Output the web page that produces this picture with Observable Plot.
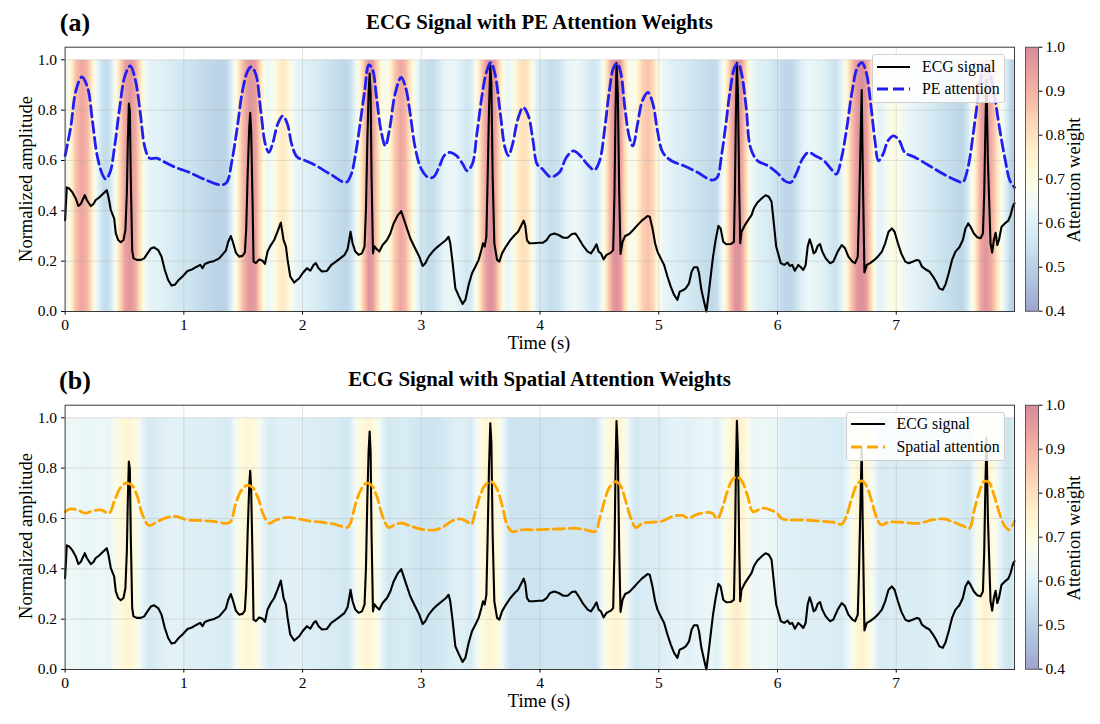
<!DOCTYPE html>
<html><head><meta charset="utf-8">
<script src="https://cdn.jsdelivr.net/npm/d3@7"></script>
<script src="https://cdn.jsdelivr.net/npm/@observablehq/plot@0.6"></script>
<style>
body{margin:0;background:#fff;}
#root{position:relative;width:1100px;height:724px;overflow:hidden;font-family:"Liberation Serif","Times New Roman",serif;color:#000;}
.abs{position:absolute;}
.c{transform:translate(-50%,-50%);white-space:nowrap;line-height:1;}
.tag{font-weight:bold;font-size:26px;}
.title{font-weight:bold;font-size:20.8px;}
.xl{font-size:18.5px;}
.yl{font-size:18.5px;transform:translate(-50%,-50%) rotate(-90deg);white-space:nowrap;line-height:1;}
.legend{background:rgba(255,255,255,0.85);border:1px solid #d0d0d0;border-radius:3px;box-sizing:border-box;}
.lt{font-size:15.8px;transform:translateY(-50%);white-space:nowrap;line-height:1;}
svg{overflow:visible;}
</style></head>
<body><div id="root"></div>
<script>
// ---------------- data ----------------
const xTicks = [0,1,2,3,4,5,6,7];
const yTicks = [0,0.2,0.4,0.6,0.8,1.0];
const cbTicks = [0.4,0.5,0.6,0.7,0.8,0.9,1.0];
const timeDomain = [0, 7.996];

// ECG signal [time s, normalized amplitude]
const ecgSignal = [
[0,0.363],[0.014,0.493],[0.034,0.489],[0.062,0.473],[0.09,0.449],[0.112,0.419],[0.132,0.427],[0.166,0.462],[0.183,0.443],[0.216,0.419],
[0.239,0.427],[0.258,0.443],[0.287,0.453],[0.315,0.466],[0.351,0.482],[0.365,0.456],[0.385,0.403],[0.413,0.370],[0.427,0.310],[0.447,0.284],
[0.469,0.275],[0.492,0.284],[0.508,0.324],[0.52,0.469],[0.528,0.667],[0.537,0.826],[0.545,0.799],[0.553,0.535],[0.565,0.244],[0.576,0.211],
[0.604,0.205],[0.638,0.205],[0.666,0.211],[0.694,0.231],[0.722,0.250],[0.75,0.255],[0.784,0.244],[0.812,0.218],[0.84,0.165],[0.868,0.125],
[0.896,0.103],[0.924,0.106],[0.952,0.123],[0.989,0.139],[1.031,0.161],[1.073,0.168],[1.101,0.176],[1.138,0.185],[1.157,0.172],[1.177,0.189],
[1.213,0.196],[1.256,0.201],[1.298,0.211],[1.334,0.231],[1.354,0.242],[1.374,0.277],[1.396,0.300],[1.416,0.271],[1.438,0.234],[1.466,0.218],
[1.494,0.221],[1.514,0.234],[1.525,0.324],[1.537,0.535],[1.551,0.733],[1.559,0.789],[1.567,0.720],[1.579,0.429],[1.587,0.198],[1.607,0.192],
[1.635,0.207],[1.663,0.202],[1.683,0.189],[1.705,0.238],[1.733,0.264],[1.761,0.284],[1.789,0.317],[1.817,0.353],[1.840,0.284],[1.86,0.258],
[1.874,0.205],[1.896,0.139],[1.93,0.115],[1.972,0.132],[2.0,0.152],[2.037,0.172],[2.065,0.162],[2.093,0.185],[2.112,0.192],[2.135,0.172],
[2.163,0.159],[2.205,0.161],[2.242,0.185],[2.281,0.198],[2.317,0.211],[2.354,0.225],[2.379,0.247],[2.393,0.284],[2.404,0.317],[2.421,0.271],
[2.444,0.238],[2.472,0.225],[2.5,0.231],[2.522,0.258],[2.534,0.403],[2.545,0.667],[2.556,0.865],[2.565,0.945],[2.573,0.865],[2.581,0.535],
[2.593,0.231],[2.604,0.260],[2.626,0.247],[2.646,0.238],[2.674,0.264],[2.711,0.284],[2.739,0.310],[2.767,0.350],[2.803,0.383],[2.831,0.399],
[2.851,0.370],[2.879,0.330],[2.907,0.291],[2.927,0.271],[2.955,0.244],[2.983,0.218],[3.011,0.181],[3.034,0.192],[3.062,0.218],[3.096,0.238],
[3.132,0.255],[3.174,0.271],[3.208,0.284],[3.23,0.297],[3.244,0.271],[3.264,0.192],[3.287,0.092],[3.315,0.062],[3.348,0.030],[3.371,0.046],
[3.399,0.106],[3.427,0.152],[3.455,0.178],[3.483,0.205],[3.506,0.244],[3.52,0.271],[3.534,0.258],[3.548,0.297],[3.559,0.535],[3.57,0.799],
[3.581,0.978],[3.59,0.905],[3.601,0.535],[3.615,0.271],[3.638,0.205],[3.657,0.198],[3.68,0.231],[3.713,0.258],[3.75,0.284],[3.787,0.304],
[3.815,0.317],[3.843,0.343],[3.862,0.361],[3.876,0.340],[3.89,0.284],[3.91,0.271],[3.947,0.271],[3.989,0.273],[4.022,0.273],[4.056,0.284],
[4.084,0.304],[4.12,0.310],[4.157,0.304],[4.196,0.293],[4.232,0.293],[4.269,0.308],[4.297,0.310],[4.325,0.291],[4.359,0.264],[4.401,0.238],
[4.429,0.231],[4.457,0.251],[4.476,0.267],[4.493,0.238],[4.513,0.231],[4.535,0.207],[4.56,0.225],[4.597,0.234],[4.616,0.244],[4.627,0.469],
[4.636,0.799],[4.644,0.987],[4.655,0.865],[4.667,0.469],[4.678,0.229],[4.695,0.277],[4.717,0.300],[4.751,0.308],[4.784,0.324],[4.821,0.343],
[4.857,0.361],[4.905,0.379],[4.924,0.376],[4.947,0.330],[4.969,0.271],[4.989,0.238],[5.017,0.211],[5.045,0.185],[5.073,0.139],[5.101,0.099],
[5.129,0.066],[5.157,0.046],[5.176,0.079],[5.199,0.083],[5.227,0.092],[5.255,0.112],[5.277,0.159],[5.297,0.176],[5.325,0.176],[5.339,0.152],
[5.359,0.086],[5.381,0.040],[5.401,0.0],[5.417,0.059],[5.437,0.139],[5.457,0.218],[5.479,0.284],[5.502,0.340],[5.521,0.330],[5.543,0.277],
[5.568,0.267],[5.605,0.268],[5.633,0.277],[5.641,0.469],[5.65,0.799],[5.658,0.988],[5.667,0.865],[5.678,0.469],[5.686,0.271],[5.697,0.317],
[5.725,0.343],[5.753,0.363],[5.781,0.383],[5.801,0.410],[5.829,0.432],[5.866,0.449],[5.899,0.462],[5.927,0.456],[5.95,0.436],[5.969,0.350],
[5.989,0.258],[6.028,0.192],[6.056,0.185],[6.085,0.194],[6.104,0.181],[6.124,0.185],[6.146,0.162],[6.175,0.185],[6.197,0.176],[6.217,0.165],
[6.237,0.185],[6.254,0.258],[6.271,0.287],[6.287,0.264],[6.304,0.231],[6.321,0.238],[6.338,0.260],[6.358,0.268],[6.377,0.238],[6.406,0.211],
[6.442,0.192],[6.47,0.198],[6.507,0.238],[6.541,0.264],[6.569,0.251],[6.597,0.218],[6.631,0.198],[6.654,0.192],[6.676,0.218],[6.687,0.403],
[6.699,0.667],[6.709,0.880],[6.717,0.601],[6.732,0.155],[6.752,0.185],[6.78,0.192],[6.808,0.202],[6.845,0.218],[6.879,0.238],[6.907,0.271],
[6.935,0.317],[6.963,0.330],[6.986,0.317],[7.014,0.271],[7.042,0.231],[7.076,0.198],[7.104,0.192],[7.138,0.198],[7.175,0.205],[7.194,0.202],
[7.217,0.178],[7.245,0.168],[7.279,0.159],[7.307,0.141],[7.335,0.119],[7.363,0.092],[7.392,0.086],[7.414,0.106],[7.442,0.152],[7.47,0.205],
[7.499,0.238],[7.532,0.255],[7.561,0.284],[7.583,0.330],[7.606,0.350],[7.625,0.337],[7.654,0.310],[7.682,0.295],[7.71,0.291],[7.73,0.310],
[7.741,0.469],[7.751,0.733],[7.760,0.920],[7.772,0.601],[7.794,0.271],[7.808,0.234],[7.822,0.284],[7.837,0.313],[7.851,0.264],[7.865,0.284],
[7.887,0.337],[7.915,0.350],[7.944,0.361],[7.963,0.383],[7.983,0.419],[7.996,0.430]
];

// PE attention weight [time s, weight]
const peAttention = [
[0,0.619],[0.047,0.731],[0.091,0.877],[0.141,0.932],[0.189,0.890],[0.23,0.758],[0.268,0.625],[0.313,0.546],[0.342,0.526],[0.378,0.552],
[0.416,0.652],[0.46,0.811],[0.504,0.936],[0.549,0.976],[0.593,0.917],[0.631,0.797],[0.672,0.652],[0.711,0.609],[0.77,0.609],[0.844,0.592],
[0.933,0.572],[1.051,0.552],[1.169,0.526],[1.311,0.503],[1.361,0.513],[1.405,0.599],[1.45,0.731],[1.494,0.877],[1.538,0.956],[1.568,0.972],
[1.606,0.943],[1.648,0.797],[1.686,0.665],[1.716,0.632],[1.754,0.678],[1.79,0.744],[1.834,0.777],[1.873,0.744],[1.908,0.665],[1.952,0.615],
[2.026,0.599],[2.115,0.579],[2.233,0.546],[2.366,0.513],[2.41,0.546],[2.446,0.625],[2.484,0.744],[2.523,0.877],[2.558,0.980],[2.588,0.963],
[2.623,0.850],[2.661,0.718],[2.697,0.658],[2.735,0.731],[2.779,0.864],[2.83,0.930],[2.868,0.890],[2.907,0.784],[2.948,0.652],[3.0,0.566],
[3.06,0.532],[3.104,0.535],[3.148,0.572],[3.193,0.619],[3.237,0.632],[3.296,0.619],[3.35,0.585],[3.385,0.559],[3.429,0.585],[3.468,0.705],
[3.509,0.850],[3.548,0.950],[3.586,0.989],[3.621,0.943],[3.666,0.784],[3.704,0.652],[3.734,0.619],[3.769,0.665],[3.813,0.764],[3.858,0.811],
[3.902,0.777],[3.941,0.678],[3.976,0.585],[4.02,0.566],[4.088,0.535],[4.162,0.552],[4.221,0.612],[4.28,0.638],[4.339,0.619],[4.398,0.585],
[4.457,0.562],[4.502,0.599],[4.546,0.731],[4.584,0.877],[4.62,0.970],[4.649,0.985],[4.679,0.950],[4.714,0.811],[4.753,0.691],[4.782,0.658],
[4.821,0.744],[4.862,0.837],[4.909,0.870],[4.951,0.824],[4.989,0.718],[5.034,0.632],[5.107,0.599],[5.211,0.579],[5.329,0.552],[5.447,0.522],
[5.491,0.532],[5.53,0.625],[5.565,0.744],[5.601,0.877],[5.639,0.970],[5.669,0.985],[5.698,0.943],[5.736,0.811],[5.772,0.652],[5.831,0.599],
[5.92,0.579],[6.008,0.546],[6.061,0.519],[6.112,0.513],[6.156,0.546],[6.209,0.605],[6.259,0.632],[6.318,0.619],[6.392,0.599],[6.451,0.566],
[6.496,0.546],[6.54,0.612],[6.584,0.731],[6.629,0.877],[6.673,0.970],[6.711,0.989],[6.747,0.950],[6.782,0.837],[6.821,0.678],[6.85,0.599],
[6.889,0.625],[6.93,0.678],[6.977,0.698],[7.027,0.678],[7.072,0.632],[7.16,0.612],[7.279,0.579],[7.397,0.546],[7.515,0.519],[7.559,0.513],
[7.604,0.572],[7.648,0.705],[7.678,0.811],[7.712,0.925],[7.75,0.972],[7.79,0.94],[7.825,0.864],[7.869,0.731],[7.914,0.612],[7.958,0.519],
[7.996,0.493]
];

// Spatial attention weight [time s, weight]
const spatialAttention = [
[0,0.627],[0.048,0.638],[0.104,0.634],[0.174,0.621],[0.230,0.630],[0.301,0.634],[0.371,0.621],[0.413,0.667],[0.463,0.720],[0.511,0.740],
[0.559,0.733],[0.604,0.694],[0.652,0.614],[0.708,0.572],[0.778,0.588],[0.862,0.604],[0.933,0.608],[1.031,0.594],[1.143,0.592],[1.256,0.588],
[1.368,0.581],[1.396,0.588],[1.438,0.661],[1.486,0.713],[1.531,0.731],[1.579,0.723],[1.626,0.680],[1.671,0.614],[1.719,0.581],[1.775,0.594],
[1.874,0.604],[1.972,0.598],[2.051,0.590],[2.163,0.585],[2.275,0.577],[2.374,0.564],[2.402,0.581],[2.444,0.654],[2.486,0.709],[2.534,0.740],
[2.579,0.733],[2.626,0.687],[2.674,0.608],[2.725,0.564],[2.781,0.577],[2.837,0.581],[2.921,0.568],[3.006,0.557],[3.118,0.555],[3.188,0.568],
[3.258,0.590],[3.329,0.598],[3.393,0.585],[3.421,0.577],[3.455,0.627],[3.497,0.694],[3.539,0.733],[3.59,0.746],[3.638,0.717],[3.68,0.654],
[3.722,0.575],[3.764,0.548],[3.848,0.555],[3.961,0.555],[4.078,0.557],[4.19,0.559],[4.303,0.561],[4.387,0.555],[4.465,0.548],[4.499,0.594],
[4.541,0.667],[4.583,0.723],[4.639,0.746],[4.681,0.727],[4.723,0.667],[4.765,0.601],[4.807,0.564],[4.863,0.581],[4.947,0.585],[5.031,0.590],
[5.115,0.608],[5.199,0.612],[5.249,0.601],[5.311,0.614],[5.395,0.624],[5.451,0.621],[5.493,0.598],[5.535,0.641],[5.577,0.707],[5.619,0.753],
[5.661,0.766],[5.703,0.746],[5.745,0.694],[5.793,0.627],[5.838,0.634],[5.885,0.641],[5.941,0.634],[5.997,0.621],[6.03,0.601],[6.076,0.594],
[6.203,0.594],[6.344,0.590],[6.470,0.585],[6.541,0.577],[6.583,0.614],[6.625,0.680],[6.668,0.733],[6.71,0.749],[6.752,0.727],[6.794,0.667],
[6.837,0.601],[6.873,0.575],[6.935,0.585],[7.048,0.585],[7.189,0.581],[7.301,0.594],[7.4,0.598],[7.47,0.588],[7.555,0.572],[7.617,0.561],
[7.654,0.627],[7.696,0.700],[7.738,0.746],[7.780,0.744],[7.823,0.694],[7.865,0.627],[7.907,0.575],[7.949,0.555],[7.996,0.590]
];

// ---------------- drawing ----------------
const FONT = '"Liberation Serif","Times New Roman",serif';
const colorOpts = {type: "linear", domain: [0.4, 1.0], scheme: "RdYlBu", reverse: true};
const BG_OPACITY = 0.45;
const root = document.getElementById("root");

function addDiv(cls, left, top, html) {
  const d = document.createElement("div");
  d.className = "abs " + cls;
  d.style.left = left + "px"; d.style.top = top + "px";
  d.innerHTML = html;
  root.appendChild(d);
  return d;
}

function panel(top, attention, attColor, tag, title, attLabel, legendBox) {
  const bg = attention.flatMap(([t, a]) => [{t, y: 0, a}, {t, y: 1, a}]);
  const ecg = ecgSignal.map(([t, v]) => ({t, v}));
  const att = attention.map(([t, v]) => ({t, v}));
  const chart = Plot.plot({
    width: 1020, height: 360,
    marginLeft: 64.6, marginRight: 6, marginTop: 46.7, marginBottom: 49,
    style: {fontFamily: FONT, fontSize: "15.5px", color: "#000", background: "transparent"},
    x: {domain: timeDomain},
    y: {domain: [0, 1.05]},
    color: colorOpts,
    marks: [
      Plot.raster(bg, {x: "t", y: "y", fill: "a", interpolate: "barycentric",
        x1: timeDomain[0], x2: timeDomain[1], y1: 0, y2: 1}),
      Plot.gridX(xTicks.slice(1), {stroke: "#b0b0b0", strokeOpacity: 0.45, strokeWidth: 0.8}),
      Plot.gridY(yTicks.slice(1), {stroke: "#b0b0b0", strokeOpacity: 0.45, strokeWidth: 0.8}),
      Plot.line(ecg, {x: "t", y: "v", stroke: "#000", strokeWidth: 2.1}),
      Plot.line(att, {x: "t", y: "v", stroke: attColor, strokeWidth: 2.8,
        strokeDasharray: "11,5", curve: "catmull-rom"}),
      Plot.frame({stroke: "#3a3a3a", strokeWidth: 1}),
      Plot.axisX(xTicks, {tickSize: 3.5, tickPadding: 4, tickFormat: d3.format("d"), label: null}),
      Plot.axisY(yTicks, {tickSize: 3.5, tickPadding: 4.5, tickFormat: d3.format(".1f"), label: null})
    ]
  });
  chart.querySelectorAll('g[aria-label="raster"]').forEach(g => g.setAttribute("opacity", BG_OPACITY));
  chart.style.position = "absolute"; chart.style.left = "0px"; chart.style.top = top + "px";
  root.appendChild(chart);

  // colorbar
  const cb = Plot.plot({
    width: 100, height: 360,
    marginLeft: 25, marginRight: 62, marginTop: 46.7, marginBottom: 49.3,
    style: {fontFamily: FONT, fontSize: "15.5px", color: "#000", background: "transparent"},
    x: {domain: [0, 1], axis: null},
    y: {domain: [0.4, 1.0]},
    color: colorOpts,
    marks: [
      Plot.raster({fill: (x, y) => y, x1: 0, x2: 1, y1: 0.4, y2: 1.0}),
      Plot.frame({stroke: "#3a3a3a", strokeWidth: 0.8}),
      Plot.axisY(cbTicks, {anchor: "right", tickSize: 3.5, tickPadding: 3.5, tickFormat: d3.format(".1f"), label: null})
    ]
  });
  cb.querySelectorAll('g[aria-label="raster"]').forEach(g => g.setAttribute("opacity", BG_OPACITY));
  cb.style.position = "absolute"; cb.style.left = "1000px"; cb.style.top = top + "px";
  root.appendChild(cb);

  // text
  addDiv("c tag", 75, top + 23, tag);
  addDiv("c title", 539.5, top + 21.5, title);
  addDiv("c xl", 539, top + 343, "Time (s)");
  addDiv("yl", 26.3, top + 178.5, "Normalized amplitude");
  addDiv("yl", 1074, top + 180, "Attention weight");

  // legend
  const L = legendBox;
  const box = addDiv("legend", L.x, top + L.y, "");
  box.style.width = L.w + "px"; box.style.height = L.h + "px";
  const rows = [
    {label: "ECG signal", color: "#000", dash: null, w: 2.1, y: L.r1},
    {label: attLabel, color: attColor, dash: "11,5", w: 2.8, y: L.r2}
  ];
  for (const r of rows) {
    const s = document.createElementNS("http://www.w3.org/2000/svg", "svg");
    s.setAttribute("width", 40); s.setAttribute("height", 10);
    s.style.position = "absolute"; s.style.left = L.s1 + "px"; s.style.top = (top + r.y - 5) + "px";
    const ln = document.createElementNS("http://www.w3.org/2000/svg", "line");
    ln.setAttribute("x1", 0); ln.setAttribute("x2", L.s2 - L.s1); ln.setAttribute("y1", 5); ln.setAttribute("y2", 5);
    ln.setAttribute("stroke", r.color); ln.setAttribute("stroke-width", r.w);
    if (r.dash) ln.setAttribute("stroke-dasharray", r.dash);
    s.appendChild(ln);
    root.appendChild(s);
    addDiv("lt", L.tx, top + r.y, r.label);
  }
}

panel(0, peAttention, "#1f1fef", "(a)", "ECG Signal with PE Attention Weights", "PE attention",
  {x: 872, y: 54, w: 133, h: 49, s1: 877, s2: 910, tx: 922, r1: 66.7, r2: 89.3});
panel(357.6, spatialAttention, "#ffa500", "(b)", "ECG Signal with Spatial Attention Weights", "Spatial attention",
  {x: 846.4, y: 54.1, w: 159, h: 49, s1: 851, s2: 885, tx: 896.5, r1: 66.4, r2: 89.7});
</script>
</body></html>
